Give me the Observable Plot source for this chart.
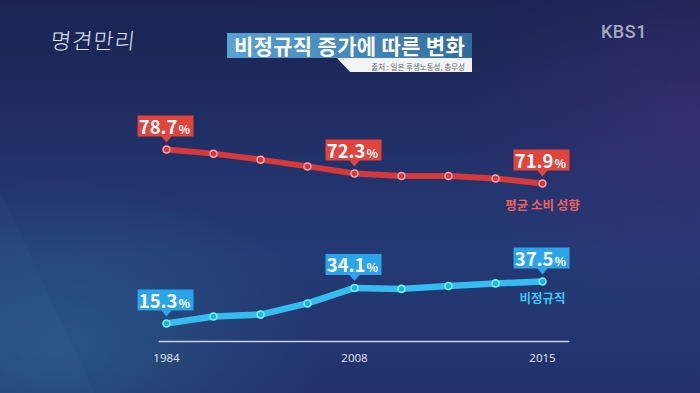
<!DOCTYPE html>
<html>
<head>
<meta charset="utf-8">
<script src="https://cdn.jsdelivr.net/npm/d3@7"></script>
<script src="https://cdn.jsdelivr.net/npm/@observablehq/plot@0.6"></script>
<style>
  html, body { margin: 0; padding: 0; }
  #wrap {
    position: relative; width: 700px; height: 393px; overflow: hidden;
    font-family: "Noto Sans CJK KR", "Noto Sans", sans-serif;
    background:
      radial-gradient(ellipse 55% 60% at 8% 88%, rgba(44,112,150,0.55), rgba(44,112,150,0) 70%),
      radial-gradient(ellipse 50% 70% at 100% 30%, rgba(70,45,120,0.5), rgba(70,45,120,0) 70%),
      linear-gradient(to bottom, #1a2350 0%, #22336c 45%, #243a74 65%, #22316a 100%);
  }
  #shard {
    position: absolute; left: 0; top: 0; width: 700px; height: 393px;
    background: rgba(120,180,210,0.035);
    clip-path: polygon(0 190px, 95px 393px, 0 393px);
  }
  #brand { position: absolute; left: 51px; top: 23px; font-size: 22px; font-weight: 300; color: #dfe6f2; letter-spacing: 1px; transform: skewX(-6deg); }
  #kbs { position: absolute; left: 601px; top: 21px; font-family: Roboto, sans-serif; font-size: 18px; font-weight: 500; color: #a4a8c0; letter-spacing: 0.5px; }
  #title {
    position: absolute; left: 227px; top: 33px; width: 245px; height: 25px;
    background: linear-gradient(to right, #5aa2d3, #3f84b6 60%, #2f6c9c);
    color: #fff; font-weight: 700; font-size: 21px; line-height: 24px; text-align: center; letter-spacing: 0.3px; white-space: nowrap;
  }
  #source {
    position: absolute; left: 337px; top: 58px; width: 135px; height: 14px;
    background: #f2f4f7; clip-path: polygon(0 0, 100% 0, 100% 100%, 13px 100%);
    color: #6a6a6a; font-size: 7.5px; line-height: 11px; padding-top: 3px; text-align: right; box-sizing: border-box;
  }
  #source span { margin-right: 7px; }
  #chart { position: absolute; left: 0; top: 0; }
</style>
</head>
<body>
<div id="wrap">
  <div id="shard"></div>
  <div id="brand">명견만리</div>
  <div id="kbs">KBS1</div>
  <div id="title">비정규직 증가에 따른 변화</div>
  <div id="source"><span>출처 : 일본 후생노동성, 총무성</span></div>
  <div id="chart"></div>
</div>
<script>
// Data
const years = ["1984", "1990", "1995", "2000", "2008", "2009", "2010", "2012", "2015"];
const consumption = [78.7, 77.6, 76.0, 74.2, 72.3, 72.2, 72.2, 72.1, 71.9];   // 평균 소비 성향 (%)
const nonRegular  = [15.3, 19.0, 20.0, 25.9, 34.1, 33.6, 35.1, 36.5, 37.5];   // 비정규직 (%)
const labeledYears = ["1984", "2008", "2015"];
const tickYears = ["1984", "2008", "2015"];
const seriesNames = ["평균 소비 성향", "비정규직"];

const red = years.map((year, i) => ({year, value: consumption[i]}));
const blue = years.map((year, i) => ({year, value: nonRegular[i]}));
const redLab = red.filter(d => labeledYears.includes(d.year));
const blueLab = blue.filter(d => labeledYears.includes(d.year));

// Callout box shape (pointer tip just above the point)
const callout = {
  draw(ctx) {
    ctx.moveTo(-29, -34);
    ctx.lineTo(27, -34);
    ctx.lineTo(27, -13);
    ctx.lineTo(5, -13);
    ctx.lineTo(0, -7);
    ctx.lineTo(-5, -13);
    ctx.lineTo(-29, -13);
    ctx.closePath();
  }
};

const C = {
  redLine: "#d5393a", redDotStroke: "#f6a7b0", redBox: "#e2433b", redLabel: "#f0615b",
  blueLine: "#36bdf0", blueDotStroke: "#74f2ec", blueBox: "#2ba5ea", blueLabel: "#3fc8f3"
};

function calloutMarks(data, box) {
  return [
    Plot.dot(data, {x: "year", y: "value", symbol: callout, fill: box, stroke: "none", r: 5}),
    Plot.text(data, {x: "year", y: "value", text: d => d.value.toFixed(1), textAnchor: "end", lineAnchor: "bottom",
      dx: 11, dy: -16, fill: "#fff", fontSize: 18.5, fontWeight: 700}),
    Plot.text(data, {x: "year", y: "value", text: () => "%", textAnchor: "start", lineAnchor: "bottom",
      dx: 12, dy: -16, fill: "#fff", fontSize: 12, fontWeight: 700})
  ];
}

const chart = Plot.plot({
  width: 700,
  height: 393,
  marginTop: 0,
  marginBottom: 52,
  marginLeft: 159,
  marginRight: 132,
  style: {background: "transparent", fontFamily: "'Noto Sans CJK KR', sans-serif", overflow: "visible"},
  x: {type: "point", domain: years, range: [165, 542], padding: 0},
  // broken (piecewise) value axis: lower band for 비정규직, upper band for 소비 성향
  y: {type: "linear", domain: [15.3, 37.5, 71.9, 72.3, 78.7], range: [323, 281, 183, 173, 149], axis: null},
  marks: [
    Plot.frame({anchor: "bottom", stroke: "#c9d0e2", strokeWidth: 1.5}),
    Plot.axisX({ticks: tickYears, tickSize: 0, tickPadding: 12, fontSize: 11.5, fill: "#e3e7f2",
      fontFamily: "'Open Sans', sans-serif", label: null}),
    Plot.line(red, {x: "year", y: "value", stroke: C.redLine, strokeWidth: 6}),
    Plot.line(blue, {x: "year", y: "value", stroke: C.blueLine, strokeWidth: 6.5}),
    Plot.dot(red, {x: "year", y: "value", r: 3.5, fill: C.redLine, stroke: C.redDotStroke, strokeWidth: 1.5}),
    Plot.dot(blue, {x: "year", y: "value", r: 3.5, fill: "#1fb3dd", stroke: C.blueDotStroke, strokeWidth: 1.6}),
    ...calloutMarks(redLab, C.redBox),
    ...calloutMarks(blueLab, C.blueBox),
    Plot.text(red.slice(-1), {x: "year", y: "value", text: () => seriesNames[0], dy: 22, fill: C.redLabel, fontSize: 12.5, fontWeight: 700}),
    Plot.text(blue.slice(-1), {x: "year", y: "value", text: () => seriesNames[1], dy: 17, fill: C.blueLabel, fontSize: 12.5, fontWeight: 700})
  ]
});
document.getElementById("chart").appendChild(chart);
</script>
</body>
</html>
